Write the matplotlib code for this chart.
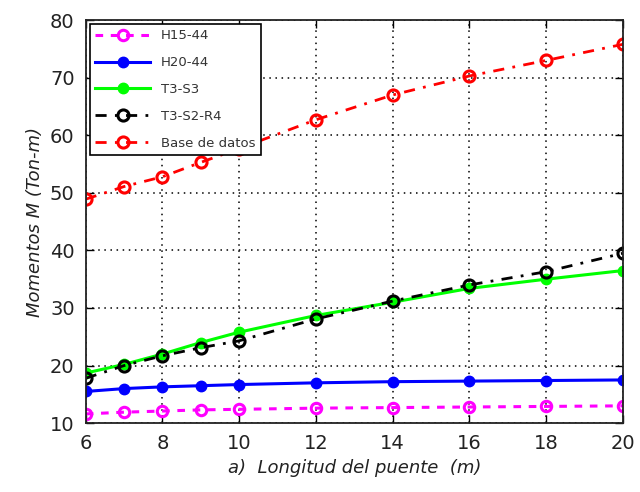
import numpy as np
import matplotlib.pyplot as plt

# Data
longitud = [6, 7, 8, 9, 10, 12, 14, 16, 18, 20]
h15_44 = [11.6, 11.9, 12.1, 12.3, 12.4, 12.6, 12.7, 12.8, 12.9, 13.0]
h20_44 = [15.5, 16.0, 16.3, 16.5, 16.7, 17.0, 17.2, 17.3, 17.4, 17.5]
t3_s3 = [18.7, 20.2, 22.0, 24.0, 25.8, 28.7, 31.0, 33.4, 35.0, 36.5]
t3_s2_r4 = [17.8, 20.0, 21.7, 23.1, 24.3, 28.1, 31.2, 34.0, 36.3, 39.5]
base_datos = [48.9, 51.1, 52.8, 55.3, 57.7, 62.7, 67.0, 70.3, 73.0, 75.8]

fig = plt.figure(figsize=(6.4, 4.92), dpi=100)
ax = fig.add_axes([0.134, 0.14, 0.839, 0.819])

dashdot = (0, (4, 3, 1, 3))
ax.plot(longitud, h15_44, color='#ff00ff', linestyle=(0, (2.5, 2.5)), linewidth=2.2,
        marker='o', markersize=7.5, markerfacecolor='none', markeredgewidth=2.2, label='H15-44')
ax.plot(longitud, h20_44, color='#0000ff', linestyle='-', linewidth=2.2,
        marker='o', markersize=7.5, label='H20-44')
ax.plot(longitud, t3_s3, color='#00ff00', linestyle='-', linewidth=2.2,
        marker='o', markersize=7.5, label='T3-S3')
ax.plot(longitud, t3_s2_r4, color='black', linestyle=dashdot, linewidth=2.0,
        marker='o', markersize=8, markerfacecolor='none', markeredgewidth=2.2, label='T3-S2-R4')
ax.plot(longitud, base_datos, color='#ff0000', linestyle=dashdot, linewidth=2.0,
        marker='o', markersize=8, markerfacecolor='none', markeredgewidth=2.2, label='Base de datos')

ax.set_xlim(6, 20)
ax.set_ylim(10, 80)
ax.set_xticks([6, 8, 10, 12, 14, 16, 18, 20])
ax.set_yticks([10, 20, 30, 40, 50, 60, 70, 80])
ax.tick_params(direction='in', top=True, right=True, labelsize=14, labelcolor='#222222',
               length=6, width=1, pad=8)
ax.grid(True, linestyle=(0, (1, 3)), color='black', linewidth=1.1)
for s in ax.spines.values():
    s.set_linewidth(1.3)
    s.set_color('#222222')

ax.set_xlabel('a)  Longitud del puente  (m)', fontsize=13, style='italic', color='#222222')
ax.set_ylabel('Momentos M (Ton-m)', fontsize=13, style='italic', color='#222222')

leg = ax.legend(loc='upper left', fontsize=9.5, frameon=True, fancybox=False,
                edgecolor='black', borderaxespad=0.3, handlelength=4.2, labelspacing=1.05,
                framealpha=1)
leg.get_frame().set_linewidth(1.2)
for t in leg.get_texts():
    t.set_color('#333333')

fig.savefig('out.png', dpi=100)
